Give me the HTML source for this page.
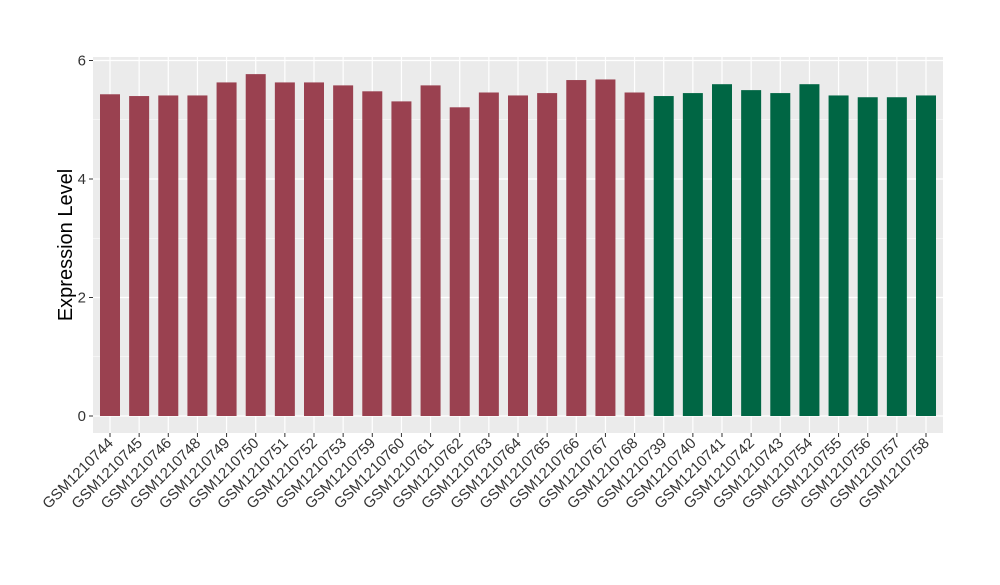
<!DOCTYPE html>
<html><head><meta charset="utf-8"><style>
body{margin:0;background:#fff;font-family:"Liberation Sans",sans-serif;}
</style></head><body>
<svg id="chart" width="1000" height="580" xmlns="http://www.w3.org/2000/svg">
<rect x="93" y="57" width="850" height="376" fill="#ebebeb"/>
<g id="grid"></g><g id="bars"></g><g id="axes"></g>
<text transform="translate(72,245) rotate(-90)" text-anchor="middle" font-size="20" fill="#000">Expression Level</text>
</svg>
<script>
const categories=["GSM1210744","GSM1210745","GSM1210746","GSM1210748","GSM1210749","GSM1210750","GSM1210751","GSM1210752","GSM1210753","GSM1210759","GSM1210760","GSM1210761","GSM1210762","GSM1210763","GSM1210764","GSM1210765","GSM1210766","GSM1210767","GSM1210768","GSM1210739","GSM1210740","GSM1210741","GSM1210742","GSM1210743","GSM1210754","GSM1210755","GSM1210756","GSM1210757","GSM1210758"];
const values=[5.43,5.40,5.41,5.41,5.63,5.77,5.63,5.63,5.58,5.48,5.31,5.58,5.21,5.46,5.41,5.45,5.67,5.68,5.46,5.40,5.45,5.60,5.50,5.45,5.60,5.41,5.38,5.38,5.41];
const groups=["a","a","a","a","a","a","a","a","a","a","a","a","a","a","a","a","a","a","a","b","b","b","b","b","b","b","b","b","b"];
const yTicks=[0,2,4,6];
const NS="http://www.w3.org/2000/svg";
const y=v=>416-v*59.25;
const x=i=>110+i*(926-110)/(categories.length-1);
function mk(tag,attrs,parent){const e=document.createElementNS(NS,tag);for(const k in attrs)e.setAttribute(k,attrs[k]);document.getElementById(parent).appendChild(e);return e;}
for(let t=0;t<=6;t+=1){
 const g=mk("line",{x1:93,x2:943,y1:y(t),y2:y(t),stroke:"#fff","stroke-width":t%2?0.6:1.2},"grid");
 
 
}
categories.forEach((c,i)=>{
 const g=mk("line",{x1:x(i),x2:x(i),y1:57,y2:433,stroke:"#fff","stroke-width":1.2},"grid");
 
 
 const b=mk("rect",{x:x(i)-10,width:20,y:y(values[i]),height:y(0)-y(values[i]),fill:groups[i]==="a"?"#9a4150":"#006644"},"bars");
 
 
 const tk=mk("line",{x1:x(i),x2:x(i),y1:433,y2:437,stroke:"#333"},"axes");
 
 
 const t=mk("text",{transform:`translate(${x(i)+4},${444}) rotate(-45)`,"text-anchor":"end","font-size":15,fill:"#333"},"axes");
 t.textContent=c;
 
 
});
yTicks.forEach(v=>{
 const tk=mk("line",{x1:89,x2:93,y1:y(v),y2:y(v),stroke:"#333"},"axes");
 
 
 const t=mk("text",{x:86,y:y(v)+5,"text-anchor":"end","font-size":15,fill:"#333"},"axes");
 t.textContent=v;
 
 
});
</script>
</body></html>
